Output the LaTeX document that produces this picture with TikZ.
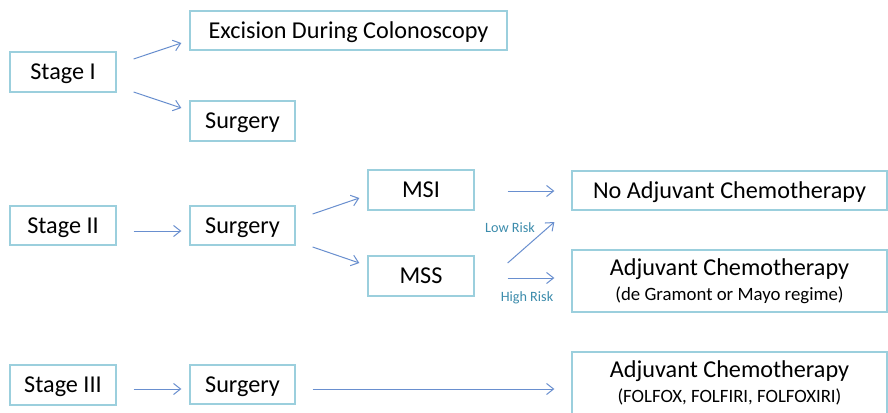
\documentclass[tikz,border=0pt]{standalone}
\usepackage{fontspec}
\setmainfont{Carlito}
\usetikzlibrary{arrows.meta}
\definecolor{boxline}{RGB}{155,207,221}
\definecolor{arrowc}{RGB}{105,143,207}
\definecolor{labelc}{RGB}{60,140,172}
\newcommand{\subtxt}{\fontsize{18.8}{21}\selectfont}
\tikzset{
  box/.style={draw=boxline, line width=1.3pt, fill=white, inner sep=0pt, anchor=center, font=\fontsize{24.2}{26}\selectfont, align=center},
  onebox/.style={box, text height=19pt, text depth=3.5pt},
  conn/.style={draw=arrowc, line width=1pt, -{Straight Barb[length=7pt,width=11pt,line width=1pt]}},
  risk/.style={text=labelc, font=\fontsize{14.2}{16}\selectfont, inner sep=0pt}
}
\begin{document}
\begin{tikzpicture}[x=1pt,y=-1pt]
\useasboundingbox (0,0) rectangle (888,412);
\fill[white] (0,0) rectangle (888,412);
% Stage I
\node[onebox, minimum width=106pt, minimum height=40pt] (s1) at (63,72) {Stage I};
\node[onebox, minimum width=317pt, minimum height=39pt] (exc) at (348.5,30.5) {Excision During Colonoscopy};
\node[onebox, minimum width=105pt, minimum height=40pt] (surg1) at (242.5,121) {Surgery};
% Stage II
\node[onebox, minimum width=106pt, minimum height=39pt] (s2) at (63,225.5) {Stage II};
\node[onebox, minimum width=105pt, minimum height=39pt] (surg2) at (242.5,225.5) {Surgery};
\node[onebox, minimum width=106pt, minimum height=40pt] (msi) at (421,190) {MSI};
\node[onebox, minimum width=106pt, minimum height=40pt] (mss) at (421,276) {MSS};
\node[onebox, minimum width=315pt, minimum height=39pt] (noadj) at (729.5,190.5) {No Adjuvant Chemotherapy};
\node[box, minimum width=315pt, minimum height=62pt] (adj2) at (729.5,281) {Adjuvant Chemotherapy\\[-1pt]{\subtxt (de Gramont or Mayo regime)}};
% Stage III
\node[onebox, minimum width=106pt, minimum height=40pt] (s3) at (63,385) {Stage III};
\node[onebox, minimum width=105pt, minimum height=39pt] (surg3) at (242.5,384.5) {Surgery};
\node[box, minimum width=315pt, minimum height=62pt] (adj3) at (729.5,383) {Adjuvant Chemotherapy\\[-1pt]{\subtxt (FOLFOX, FOLFIRI, FOLFOXIRI)}};
% connectors
\draw[conn] ([shift={(17,-13)}]s1.east) -- ([shift={(-8,12.5)}]exc.west);
\draw[conn] ([shift={(17,20)}]s1.east) -- ([shift={(-8,-13)}]surg1.west);
\draw[conn] ([shift={(17,5.5)}]s2.east) -- ([shift={(-8,5.5)}]surg2.west);
\draw[conn] ([shift={(17,-11.5)}]surg2.east) -- ([shift={(-8,8)}]msi.west);
\draw[conn] ([shift={(17,21.5)}]surg2.east) -- ([shift={(-8,-13)}]mss.west);
\draw[conn] ([shift={(33,1)}]msi.east) -- ([shift={(-17,0.5)}]noadj.west);
\draw[conn] ([shift={(33,-13)}]mss.east) -- ([shift={(-17,31.5)}]noadj.west);
\draw[conn] ([shift={(33,2)}]mss.east) -- ([shift={(-17,-3)}]adj2.west);
\draw[conn] ([shift={(17,4)}]s3.east) -- ([shift={(-8,4.5)}]surg3.west);
\draw[conn] ([shift={(17,4.5)}]surg3.east) -- ([shift={(-17,6)}]adj3.west);
% labels
\node[risk] (low) at (510,228) {Low Risk};
\node[risk] (high) at (527,298) {High Risk};
\end{tikzpicture}
\end{document}
